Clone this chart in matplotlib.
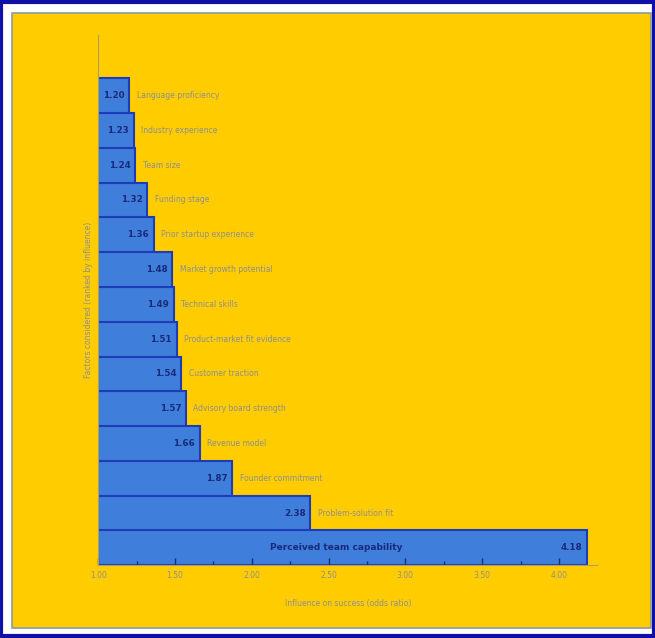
import matplotlib.pyplot as plt
from matplotlib.patches import Rectangle

# данные сверху вниз, как на картинке
factors = ['Language proficiency', 'Industry experience', 'Team size',
           'Funding stage', 'Prior startup experience', 'Market growth potential',
           'Technical skills', 'Product-market fit evidence', 'Customer traction',
           'Advisory board strength', 'Revenue model', 'Founder commitment',
           'Problem-solution fit', 'Perceived team capability']
values = [1.20, 1.23, 1.24, 1.32, 1.36, 1.48, 1.49, 1.51, 1.54, 1.57, 1.66, 1.87, 2.38, 4.18]
xticks = [1.0, 1.5, 2.0, 2.5, 3.0, 3.5, 4.0]

yellow = '#FFCC00'
bar_col = '#3F7EDB'
edge_col = '#1E3CB8'
navy = '#1A2A7A'
grey = '#8E8F90'

# снизу вверх для barh
labels = factors[::-1]
vals = values[::-1]
pos = list(range(len(vals)))

fig = plt.figure(figsize=(6.55, 6.38), dpi=100)
fig.patch.set_facecolor('white')

# рамка вокруг картинки
fig.patches.append(Rectangle((0.002, 0.003), 0.996, 0.994, transform=fig.transFigure,
                             facecolor='white', edgecolor='#1010A8', linewidth=3, zorder=0))
fig.patches.append(Rectangle((0.019, 0.016), 0.975, 0.963, transform=fig.transFigure,
                             facecolor=yellow, edgecolor='#8E9AA0', linewidth=1.2, zorder=0))

ax = fig.add_axes([0.150, 0.114, 0.762, 0.831])
ax.set_facecolor('none')
ax.set_zorder(2)

ax.barh(pos, [v - 1.0 for v in vals], left=1.0, height=1.0,
        color=bar_col, edgecolor=edge_col, linewidth=1.5)

for i, (v, lab) in enumerate(zip(vals, labels)):
    ax.text(v - 0.03, i, f'{v:.2f}', ha='right', va='center',
            fontsize=6.3, color=navy, fontweight='bold')
    if i == 0:
        ax.text(2.55, i, lab, ha='center', va='center', fontsize=6.5,
                color=navy, fontweight='bold')
    else:
        ax.text(v + 0.05, i, lab, ha='left', va='center', fontsize=5.5, color=grey)

ax.set_xlim(1.0, 4.25)
ax.set_ylim(-0.5, 14.74)
ax.set_xticks(xticks)
ax.set_xticklabels([f'{t:.2f}' for t in xticks], fontsize=5.5, color=grey)
ax.set_xticks([1.25, 1.75, 2.25, 2.75, 3.25, 3.75], minor=True)
ax.tick_params(axis='x', direction='in', length=5, width=1, color=navy, pad=4)
ax.tick_params(axis='x', which='minor', direction='in', length=3, width=1, color=navy)
ax.set_yticks([])

for s in ['top', 'right']:
    ax.spines[s].set_visible(False)
ax.spines['left'].set_color('#B0A060')
ax.spines['left'].set_linewidth(0.8)
ax.spines['bottom'].set_color('#B0A060')
ax.spines['bottom'].set_linewidth(0.8)

ax.set_xlabel('Influence on success (odds ratio)', fontsize=5.5, color=grey, labelpad=14)
ax.set_ylabel('Factors considered (ranked by influence)', fontsize=5.5, color=grey, labelpad=4)

fig.savefig('out.png', dpi=100, facecolor=fig.get_facecolor())
